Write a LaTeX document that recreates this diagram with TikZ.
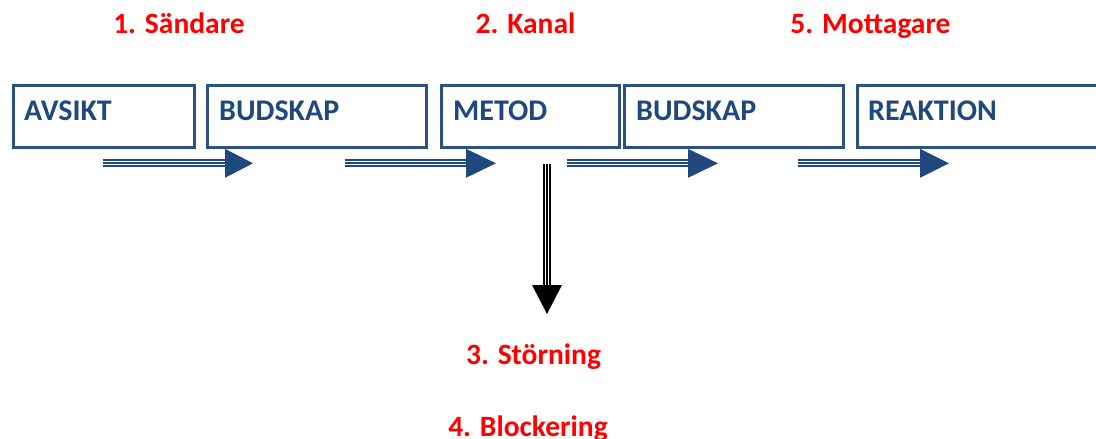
\documentclass[tikz,border=0pt]{standalone}
\usepackage{fontspec}
\setmainfont{Carlito}
\usetikzlibrary{calc}
\definecolor{txtblue}{RGB}{31,73,125}
\definecolor{boxblue}{RGB}{44,82,132}
\definecolor{arrblue}{RGB}{31,73,125}
\definecolor{titred}{RGB}{255,0,0}
\tikzset{
  boxnode/.style={draw=boxblue, line width=2.6pt, rectangle, inner sep=0pt, minimum height=62pt, anchor=north west},
  boxlabel/.style={text=txtblue, font=\fontsize{30}{30}\selectfont\bfseries, inner sep=0pt, anchor=base west},
  title/.style={text=titred, font=\fontsize{29.5}{30}\selectfont\bfseries, inner sep=0pt, anchor=base},
  shaft/.style={draw=#1, line width=1.9pt, double=white, double distance=4.1pt},
  core/.style={draw=#1, line width=1.9pt}
}
\begin{document}
\begin{tikzpicture}[x=1pt,y=-1pt]
\useasboundingbox (0,0) rectangle (1096,439);
% boxes
\node[boxnode, minimum width=181pt] (avsikt) at (12,84) {};
\node[boxnode, minimum width=219pt] (bud1) at (206,84) {};
\node[boxnode, minimum width=178pt] (metod) at (440,84) {};
\node[boxnode, minimum width=219pt] (bud2) at (623,84) {};
\node[boxnode, minimum width=260pt] (reak) at (856,84) {};
\node[boxlabel] (avsiktL) at ($(avsikt.north west)+(12,36)$) {AVSIKT};
\node[boxlabel] (bud1L) at ($(bud1.north west)+(13,36)$) {BUDSKAP};
\node[boxlabel] (metodL) at ($(metod.north west)+(13,36)$) {METOD};
\node[boxlabel] (bud2L) at ($(bud2.north west)+(13,36)$) {BUDSKAP};
\node[boxlabel] (reakL) at ($(reak.north west)+(12,36)$) {REAKTION};
% titles
\node[title] (t1) at (179,34) {1. Sändare};
\node[title] (t2) at (525.5,34) {2. Kanal};
\node[title] (t5) at (870.5,33.5) {5. Mottagare};
\node[title] (t3) at (533.5,364) {3. Störning};
\node[title] (t4) at (528,436) {4. Blockering};
% horizontal arrows
\foreach \s/\b/\t [count=\i] in {103/225/253, 345/466/496, 567/688/718, 798/920/949}{
  \coordinate (h\i s) at (\s,163.3);
  \coordinate (h\i b) at (\b,163.3);
  \coordinate (h\i t) at (\t,163.3);
  \draw[shaft=arrblue] (h\i s) -- (h\i b);
  \draw[core=arrblue] (h\i s) -- (h\i b);
  \fill[arrblue] ($(h\i b)+(0,-14.5)$) -- (h\i t) -- ($(h\i b)+(0,14.5)$) -- cycle;
}
% vertical arrow
\coordinate (vs) at (547,164);
\coordinate (vb) at (547,285);
\coordinate (vt) at (547,314);
\draw[shaft=black] (vs) -- (vb);
\draw[core=black] (vs) -- (vb);
\fill[black] ($(vb)+(-15,0)$) -- (vt) -- ($(vb)+(15,0)$) -- cycle;
\end{tikzpicture}
\end{document}
